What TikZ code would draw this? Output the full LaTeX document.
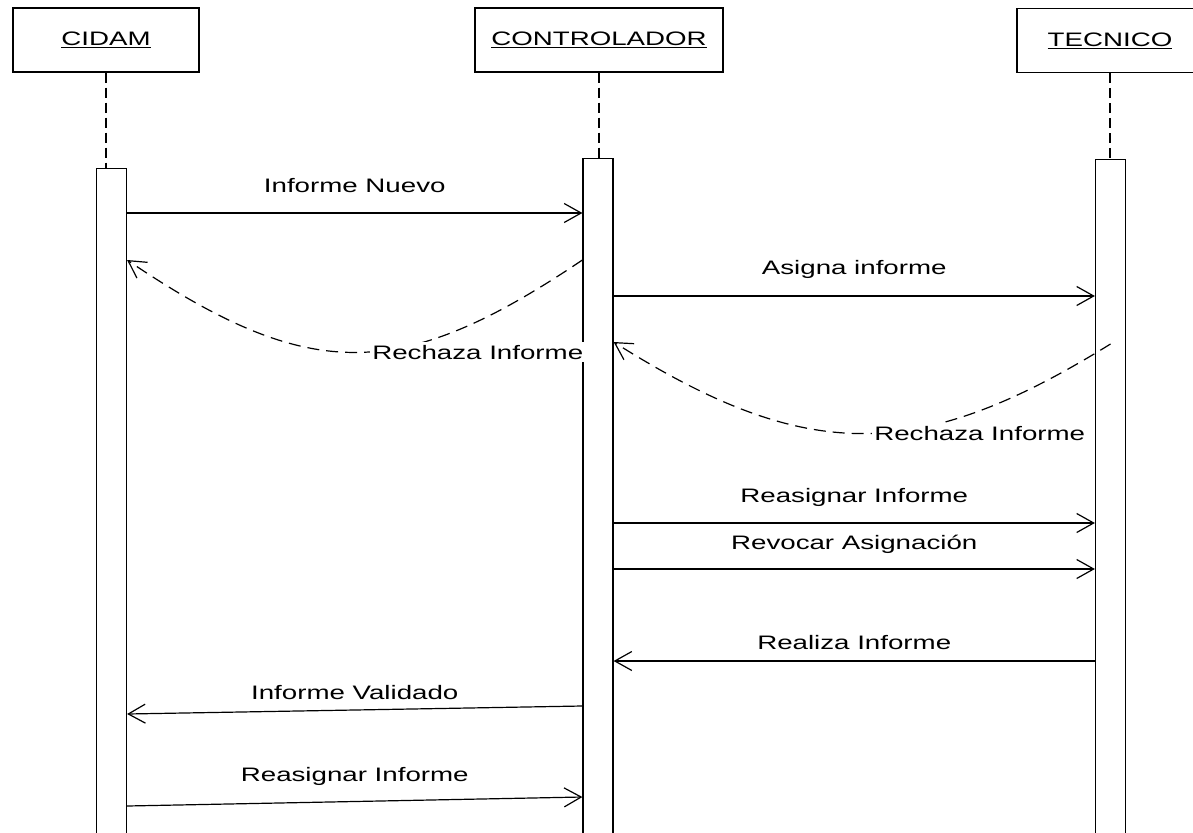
\documentclass[tikz,border=0pt]{standalone}
\usepackage{fontspec}
\setmainfont{Liberation Sans}[FakeStretch=1.42]
\usetikzlibrary{arrows.meta}

\begin{document}
\begin{tikzpicture}[x=1pt, y=-1pt, line width=1.2pt,
	>={Straight Barb[length=17pt,width=19pt]},
	actor/.style={draw, minimum width=#1, minimum height=64pt, inner sep=0pt, font=\fontsize{19.5}{23}\selectfont},
	bar/.style={draw, fill=white, minimum width=30pt, minimum height=700pt, anchor=north, inner sep=0pt},
	life/.style={dash pattern=on 10pt off 5pt},
	lbl/.style={font=\fontsize{19.5}{23}\selectfont, inner sep=0pt, text height=14pt, text depth=0pt},
	reply/.style={->, dash pattern=on 12pt off 7pt}]

			\useasboundingbox (0,0) rectangle (1193,832);

			% Nodes
			\node[actor=186pt] (cidam) at (106,40) {\underline{CIDAM}};
			\node[actor=248pt] (ctrl) at (599,40) {\underline{CONTROLADOR}};
			\node[actor=186pt] (tec) at (1110,40.5) {\underline{TECNICO}};

			% Lifelines
			\draw[life] (cidam.south) -- (cidam.south |- 0,168);
			\draw[life] (ctrl.south) -- (ctrl.south |- 0,158);
			\draw[life] (tec.south) -- (tec.south |- 0,159);

			% Activation bars
			\node[bar] (cbar) at (111.5,168) {};
			\node[bar] (kbar) at (598,158) {};
			\node[bar] (tbar) at (1110.5,159) {};

			% Messages
			\draw[->] (cbar.east |- 0,213) -- node[lbl, above=20pt] {Informe Nuevo} (kbar.west |- 0,213);
			\draw[reply] (kbar.west |- 0,260) to[bend left=34, looseness=1.24]
				node[lbl, fill=white, anchor=west, inner xsep=2pt, inner ysep=3pt, xshift=15pt] {Rechaza Informe} (cbar.east |- 0,260);
			\draw[->] (kbar.east |- 0,296) -- node[lbl, above=21pt] {Asigna informe} (tbar.west |- 0,296);
			\draw[reply] (tbar.center |- 0,344) to[bend left=32, looseness=1.17]
				node[lbl, fill=white, anchor=west, inner xsep=2pt, inner ysep=3pt, xshift=10pt] {Rechaza Informe} (kbar.east |- 0,342);
			\draw[->] (kbar.east |- 0,523) -- node[lbl, above=20pt] {Reasignar Informe} (tbar.west |- 0,523);
			\draw[->] (kbar.east |- 0,569) -- node[lbl, above=19pt] {Revocar Asignación} (tbar.west |- 0,569);
			\draw[->] (tbar.west |- 0,661) -- node[lbl, above=11pt] {Realiza Informe} (kbar.east |- 0,661);
			\draw[->] (kbar.west |- 0,706) -- node[lbl, above=10pt] {Informe Validado} (cbar.east |- 0,714);
			\draw[->] (cbar.east |- 0,806) -- node[lbl, above=19pt] {Reasignar Informe} (kbar.west |- 0,797);

\end{tikzpicture}
\end{document}
